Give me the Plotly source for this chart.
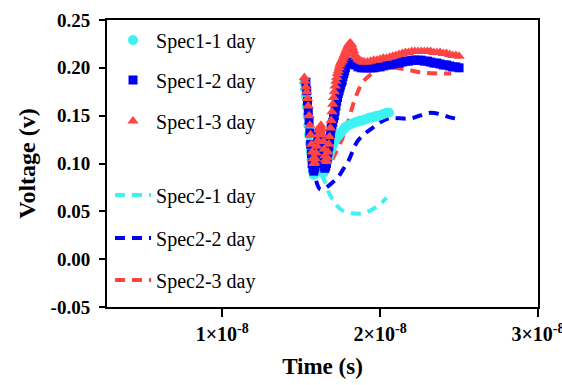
import plotly.graph_objects as go

# ---- data (time in units of 1e-8 s, voltage in V) ----
s11_t = [1.520, 1.525, 1.530, 1.535, 1.540, 1.545, 1.550, 1.555, 1.560, 1.565, 1.570, 1.575, 1.580, 1.585, 1.590,
         1.595, 1.600, 1.605, 1.610, 1.615, 1.620, 1.625, 1.630, 1.635, 1.640, 1.645, 1.650, 1.655, 1.660, 1.665,
         1.670, 1.675, 1.680, 1.685, 1.690, 1.695, 1.700, 1.705, 1.710, 1.715, 1.720, 1.730, 1.740, 1.750, 1.760,
         1.770, 1.780, 1.790, 1.800, 1.815, 1.830, 1.845, 1.860, 1.875, 1.890, 1.905, 1.920, 1.935, 1.950, 1.965,
         1.980, 1.995, 2.010, 2.025, 2.040, 2.055]
s11_v = [0.185, 0.178, 0.170, 0.160, 0.150, 0.140, 0.130, 0.121, 0.112, 0.104, 0.097, 0.092, 0.088, 0.089, 0.092,
         0.096, 0.100, 0.103, 0.104, 0.101, 0.098, 0.095, 0.093, 0.091, 0.090, 0.092, 0.095, 0.098, 0.100, 0.103,
         0.105, 0.108, 0.110, 0.113, 0.115, 0.117, 0.119, 0.121, 0.123, 0.125, 0.126, 0.128, 0.130, 0.132, 0.134,
         0.136, 0.138, 0.139, 0.140, 0.141, 0.142, 0.143, 0.144, 0.145, 0.145, 0.146, 0.147, 0.148, 0.148, 0.149,
         0.150, 0.150, 0.151, 0.152, 0.153, 0.153]

s12_t = [1.530, 1.535, 1.540, 1.545, 1.550, 1.555, 1.560, 1.565, 1.570, 1.575, 1.580, 1.585, 1.590, 1.595, 1.600,
         1.605, 1.610, 1.615, 1.620, 1.625, 1.630, 1.635, 1.640, 1.645, 1.650, 1.655, 1.660, 1.665, 1.670, 1.675,
         1.680, 1.685, 1.690, 1.695, 1.700, 1.705, 1.710, 1.715, 1.720, 1.725, 1.730, 1.735, 1.740, 1.745, 1.750,
         1.755, 1.760, 1.765, 1.770, 1.775, 1.780, 1.790, 1.800, 1.820, 1.840, 1.860, 1.880, 1.900, 1.920, 1.940,
         1.960, 1.980, 2.000, 2.020, 2.040, 2.060, 2.080, 2.100, 2.120, 2.140, 2.160, 2.180, 2.200, 2.220, 2.240,
         2.260, 2.280, 2.300, 2.320, 2.340, 2.360, 2.380, 2.400, 2.420, 2.440, 2.460, 2.480, 2.500]
s12_v = [0.185, 0.176, 0.165, 0.155, 0.145, 0.132, 0.120, 0.110, 0.100, 0.095, 0.092, 0.095, 0.100, 0.108, 0.115,
         0.122, 0.128, 0.132, 0.132, 0.126, 0.118, 0.110, 0.102, 0.097, 0.095, 0.097, 0.100, 0.106, 0.112, 0.118,
         0.125, 0.131, 0.137, 0.140, 0.143, 0.147, 0.150, 0.155, 0.160, 0.165, 0.169, 0.173, 0.176, 0.179, 0.182,
         0.185, 0.187, 0.191, 0.194, 0.197, 0.200, 0.204, 0.206, 0.206, 0.203, 0.201, 0.200, 0.200, 0.200, 0.200,
         0.200, 0.201, 0.201, 0.202, 0.203, 0.203, 0.204, 0.205, 0.205, 0.206, 0.207, 0.207, 0.208, 0.208, 0.208,
         0.208, 0.207, 0.207, 0.206, 0.205, 0.205, 0.204, 0.203, 0.203, 0.202, 0.201, 0.201, 0.200]

s13_t = [1.520, 1.525, 1.530, 1.535, 1.540, 1.545, 1.550, 1.555, 1.560, 1.565, 1.570, 1.575, 1.580, 1.585, 1.590,
         1.595, 1.600, 1.605, 1.610, 1.615, 1.620, 1.625, 1.630, 1.635, 1.640, 1.645, 1.650, 1.655, 1.660, 1.665,
         1.670, 1.675, 1.680, 1.685, 1.690, 1.695, 1.700, 1.705, 1.710, 1.715, 1.720, 1.725, 1.730, 1.735, 1.740,
         1.745, 1.750, 1.755, 1.760, 1.765, 1.770, 1.775, 1.780, 1.785, 1.790, 1.795, 1.800, 1.805, 1.810, 1.815,
         1.820, 1.825, 1.830, 1.835, 1.840, 1.850, 1.860, 1.870, 1.880, 1.890, 1.900, 1.920, 1.940, 1.960, 1.980,
         2.000, 2.020, 2.040, 2.060, 2.080, 2.100, 2.120, 2.140, 2.160, 2.180, 2.200, 2.220, 2.240, 2.260, 2.280,
         2.300, 2.320, 2.340, 2.360, 2.380, 2.400, 2.420, 2.440, 2.460, 2.480, 2.500]
s13_v = [0.190, 0.186, 0.180, 0.175, 0.168, 0.160, 0.150, 0.140, 0.130, 0.120, 0.112, 0.105, 0.100, 0.101, 0.105,
         0.111, 0.118, 0.124, 0.130, 0.135, 0.138, 0.140, 0.136, 0.130, 0.123, 0.115, 0.108, 0.104, 0.102, 0.106,
         0.112, 0.120, 0.128, 0.137, 0.145, 0.154, 0.162, 0.169, 0.175, 0.181, 0.186, 0.190, 0.194, 0.197, 0.200,
         0.203, 0.205, 0.207, 0.208, 0.210, 0.212, 0.214, 0.216, 0.218, 0.220, 0.222, 0.224, 0.225, 0.226, 0.225,
         0.224, 0.221, 0.218, 0.215, 0.213, 0.211, 0.209, 0.208, 0.207, 0.206, 0.206, 0.206, 0.207, 0.208, 0.208,
         0.209, 0.210, 0.210, 0.211, 0.212, 0.213, 0.214, 0.215, 0.216, 0.216, 0.217, 0.217, 0.217, 0.217, 0.217,
         0.217, 0.217, 0.216, 0.216, 0.216, 0.215, 0.215, 0.214, 0.213, 0.213, 0.212]

s21_t = [1.52, 1.55, 1.58, 1.61, 1.64, 1.68, 1.72, 1.76, 1.82, 1.89, 1.95, 2.01, 2.04]
s21_v = [0.175, 0.140, 0.110, 0.095, 0.085, 0.068, 0.057, 0.051, 0.048, 0.048, 0.052, 0.059, 0.064]

s22_t = [1.52, 1.56, 1.59, 1.62, 1.65, 1.69, 1.73, 1.77, 1.80, 1.86, 1.95, 2.05, 2.19, 2.32, 2.45, 2.48]
s22_v = [0.170, 0.120, 0.085, 0.073, 0.074, 0.079, 0.085, 0.095, 0.103, 0.124, 0.137, 0.147, 0.147, 0.153, 0.148, 0.147]

s23_t = [1.52, 1.56, 1.60, 1.63, 1.66, 1.70, 1.76, 1.80, 1.84, 1.90, 2.02, 2.14, 2.27, 2.40, 2.45]
s23_v = [0.175, 0.130, 0.098, 0.090, 0.093, 0.105, 0.126, 0.145, 0.167, 0.187, 0.200, 0.199, 0.195, 0.194, 0.194]

x_tickvals = [1, 2, 3]
x_ticktext = ["<b>1×10<sup>-8</sup></b>", "<b>2×10<sup>-8</sup></b>", "<b>3×10<sup>-8</sup></b>"]
y_tickvals = [-0.05, 0.00, 0.05, 0.10, 0.15, 0.20, 0.25]
y_ticktext = ["<b>-0.05</b>", "<b>0.00</b>", "<b>0.05</b>", "<b>0.10</b>", "<b>0.15</b>", "<b>0.20</b>", "<b>0.25</b>"]

CYAN = "#3EF2F2"
BLUE = "#0000F2"
RED = "#FF4444"
FONT = "Liberation Serif"

fig = go.Figure()

def scale(t):
    return [v * 1e-8 for v in t]

# dashed Spec2 curves (drawn beneath markers)
for t, v, c, name, lg in [
    (s21_t, s21_v, CYAN, "Spec2-1 day", "legend4"),
    (s22_t, s22_v, BLUE, "Spec2-2 day", "legend5"),
    (s23_t, s23_v, RED, "Spec2-3 day", "legend6"),
]:
    fig.add_trace(go.Scatter(x=scale(t), y=v, mode="lines", name=name, legend=lg,
                             line=dict(color=c, width=4, dash="10px,7px", shape="spline")))

for t, v, c, sym, sz, name, lg in [
    (s11_t, s11_v, CYAN, "circle", 10, "Spec1-1 day", "legend"),
    (s12_t, s12_v, BLUE, "square", 9, "Spec1-2 day", "legend2"),
    (s13_t, s13_v, RED, "triangle-up", 10, "Spec1-3 day", "legend3"),
]:
    fig.add_trace(go.Scatter(x=scale(t), y=v, mode="markers", name=name, legend=lg,
                             marker=dict(color=c, symbol=sym, size=sz, line=dict(width=0))))

leg_common = dict(bgcolor="rgba(0,0,0,0)", font=dict(family=FONT, size=20, color="black"),
                  xanchor="left", yanchor="middle", x=0.007, itemwidth=36)
ys = {"legend": 0.930, "legend2": 0.791, "legend3": 0.648,
      "legend4": 0.390, "legend5": 0.240, "legend6": 0.094}
layout_legends = {k: dict(leg_common, y=v) for k, v in ys.items()}

fig.update_layout(
    width=562, height=385,
    margin=dict(l=107, r=24, t=20, b=78, autoexpand=False),
    paper_bgcolor="white", plot_bgcolor="white",
    showlegend=True,
    **layout_legends,
    xaxis=dict(range=[0.27e-8, 3.0e-8], tickvals=scale(x_tickvals), ticktext=x_ticktext,
               automargin=False,
               showgrid=False, zeroline=False, showline=True, linecolor="black", linewidth=2,
               mirror=True, ticks="outside", ticklen=8, tickwidth=2, tickcolor="black",
               ticklabeloverflow="allow",
               tickfont=dict(family=FONT, size=20, color="black"),
               title=dict(text="<b>Time (s)</b>", font=dict(family=FONT, size=23, color="black"), standoff=14)),
    yaxis=dict(range=[-0.05, 0.25], tickvals=y_tickvals, ticktext=y_ticktext,
               automargin=False,
               showgrid=False, zeroline=False, showline=True, linecolor="black", linewidth=2,
               mirror=True, ticks="outside", ticklen=6, tickwidth=2, tickcolor="black",
               ticklabelstandoff=5,
               tickfont=dict(family=FONT, size=19, color="black"),
               title=dict(text="<b>Voltage (v)</b>", font=dict(family=FONT, size=24, color="black"), standoff=8)),
)

fig.write_html("out.html")
